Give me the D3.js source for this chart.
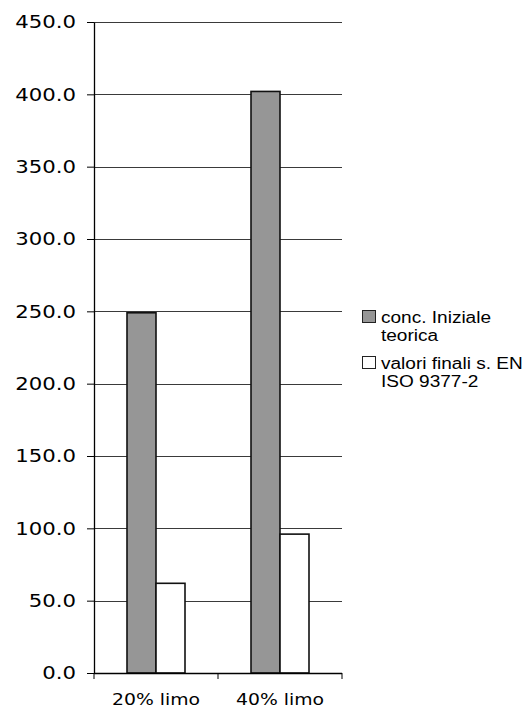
<!DOCTYPE html>
<html>
<head>
<meta charset="utf-8">
<script src="https://cdn.jsdelivr.net/npm/d3@7"></script>
<style>
  html, body { margin: 0; padding: 0; background: #fff; }
  svg { display: block; }
</style>
</head>
<body>
<svg id="chart" width="523" height="710"></svg>
<script>
// Categories and series values
const categories = ["20% limo", "40% limo"];
const seriesNames = ["conc. Iniziale teorica", "valori finali s. EN ISO 9377-2"];
const concIniziale = [249, 402];
const valoriFinali = [62, 96];
const yTicks = [0, 50, 100, 150, 200, 250, 300, 350, 400, 450];
const legendLines = [["conc. Iniziale", "teorica"], ["valori finali s. EN", "ISO 9377-2"]];

const seriesColors = ["#969696", "#ffffff"];
const seriesValues = [concIniziale, valoriFinali];

const svg = d3.select("#chart");

const plot = { left: 94, right: 342, top: 22, bottom: 673 };

const x = d3.scaleBand().domain(categories).range([plot.left, plot.right]);
const xInner = d3.scaleBand().domain(seriesNames)
  .range([33, x.bandwidth() - 33]);
const y = d3.scaleLinear().domain([0, 450]).range([plot.bottom, plot.top]);

// Horizontal gridlines
svg.append("g")
  .selectAll("line")
  .data(yTicks.filter(t => t > 0))
  .join("line")
  .attr("x1", plot.left).attr("x2", plot.right)
  .attr("y1", d => Math.round(y(d)) + 0.5).attr("y2", d => Math.round(y(d)) + 0.5)
  .attr("stroke", "#3a3a3a").attr("stroke-width", 1);

// Bars
const rows = categories.map((c, i) => ({ cat: c, vals: seriesNames.map((s, j) => ({ s, j, v: seriesValues[j][i] })) }));
svg.append("g")
  .selectAll("g")
  .data(rows)
  .join("g")
  .attr("transform", d => `translate(${x(d.cat)},0)`)
  .selectAll("rect")
  .data(d => d.vals)
  .join("rect")
  .attr("x", d => xInner(d.s))
  .attr("width", xInner.bandwidth())
  .attr("y", d => y(d.v))
  .attr("height", d => y(0) - y(d.v))
  .attr("fill", d => seriesColors[d.j])
  .attr("stroke", "#111")
  .attr("stroke-width", 1.6);

// Left axis
const yAxis = svg.append("g")
  .attr("transform", `translate(${plot.left},0)`)
  .call(d3.axisLeft(y).tickValues(yTicks).tickFormat(d3.format(".1f")).tickSizeInner(7).tickSizeOuter(0).tickPadding(0));
yAxis.select(".domain").attr("stroke", "#000").attr("stroke-width", 1.3);
yAxis.selectAll(".tick line").attr("stroke", "#000").attr("stroke-width", 1);
yAxis.selectAll(".tick text")
  .attr("x", 0)
  .attr("transform", "translate(-18,0) scale(1.18,1)")
  .attr("font-family", "DejaVu Sans, Verdana, sans-serif")
  .attr("font-size", 18)
  .attr("fill", "#000");

// Bottom axis with ticks at category boundaries
svg.append("line")
  .attr("x1", plot.left).attr("x2", plot.right)
  .attr("y1", plot.bottom + 0.5).attr("y2", plot.bottom + 0.5)
  .attr("stroke", "#000").attr("stroke-width", 1.3);
const boundaries = categories.map(c => x(c)).concat([plot.right]);
svg.append("g")
  .selectAll("line")
  .data(boundaries)
  .join("line")
  .attr("x1", d => d).attr("x2", d => d)
  .attr("y1", plot.bottom).attr("y2", plot.bottom + 6)
  .attr("stroke", "#000").attr("stroke-width", 1);
svg.append("g")
  .selectAll("text")
  .data(categories)
  .join("text")
  .attr("transform", d => `translate(${x(d) + x.bandwidth() / 2},705) scale(1.14,1)`)
  .attr("text-anchor", "middle")
  .attr("font-family", "DejaVu Sans, Verdana, sans-serif")
  .attr("font-size", 16.5)
  .text(d => d);

// Legend
const legend = svg.append("g");
const legendTop = [310, 356];
legendLines.forEach((lines, j) => {
  legend.append("rect")
    .attr("x", 362.5).attr("y", legendTop[j] + 0.5)
    .attr("width", 13).attr("height", 12)
    .attr("fill", seriesColors[j])
    .attr("stroke", "#222").attr("stroke-width", 1);
  lines.forEach((t, k) => {
    legend.append("text")
      .attr("transform", `translate(381,${legendTop[j] + 12.5 + k * 18}) scale(1.19,1)`)
      .attr("font-family", "Liberation Sans, Arial, sans-serif")
      .attr("font-size", 16)
      .text(t);
  });
});
</script>
</body>
</html>
